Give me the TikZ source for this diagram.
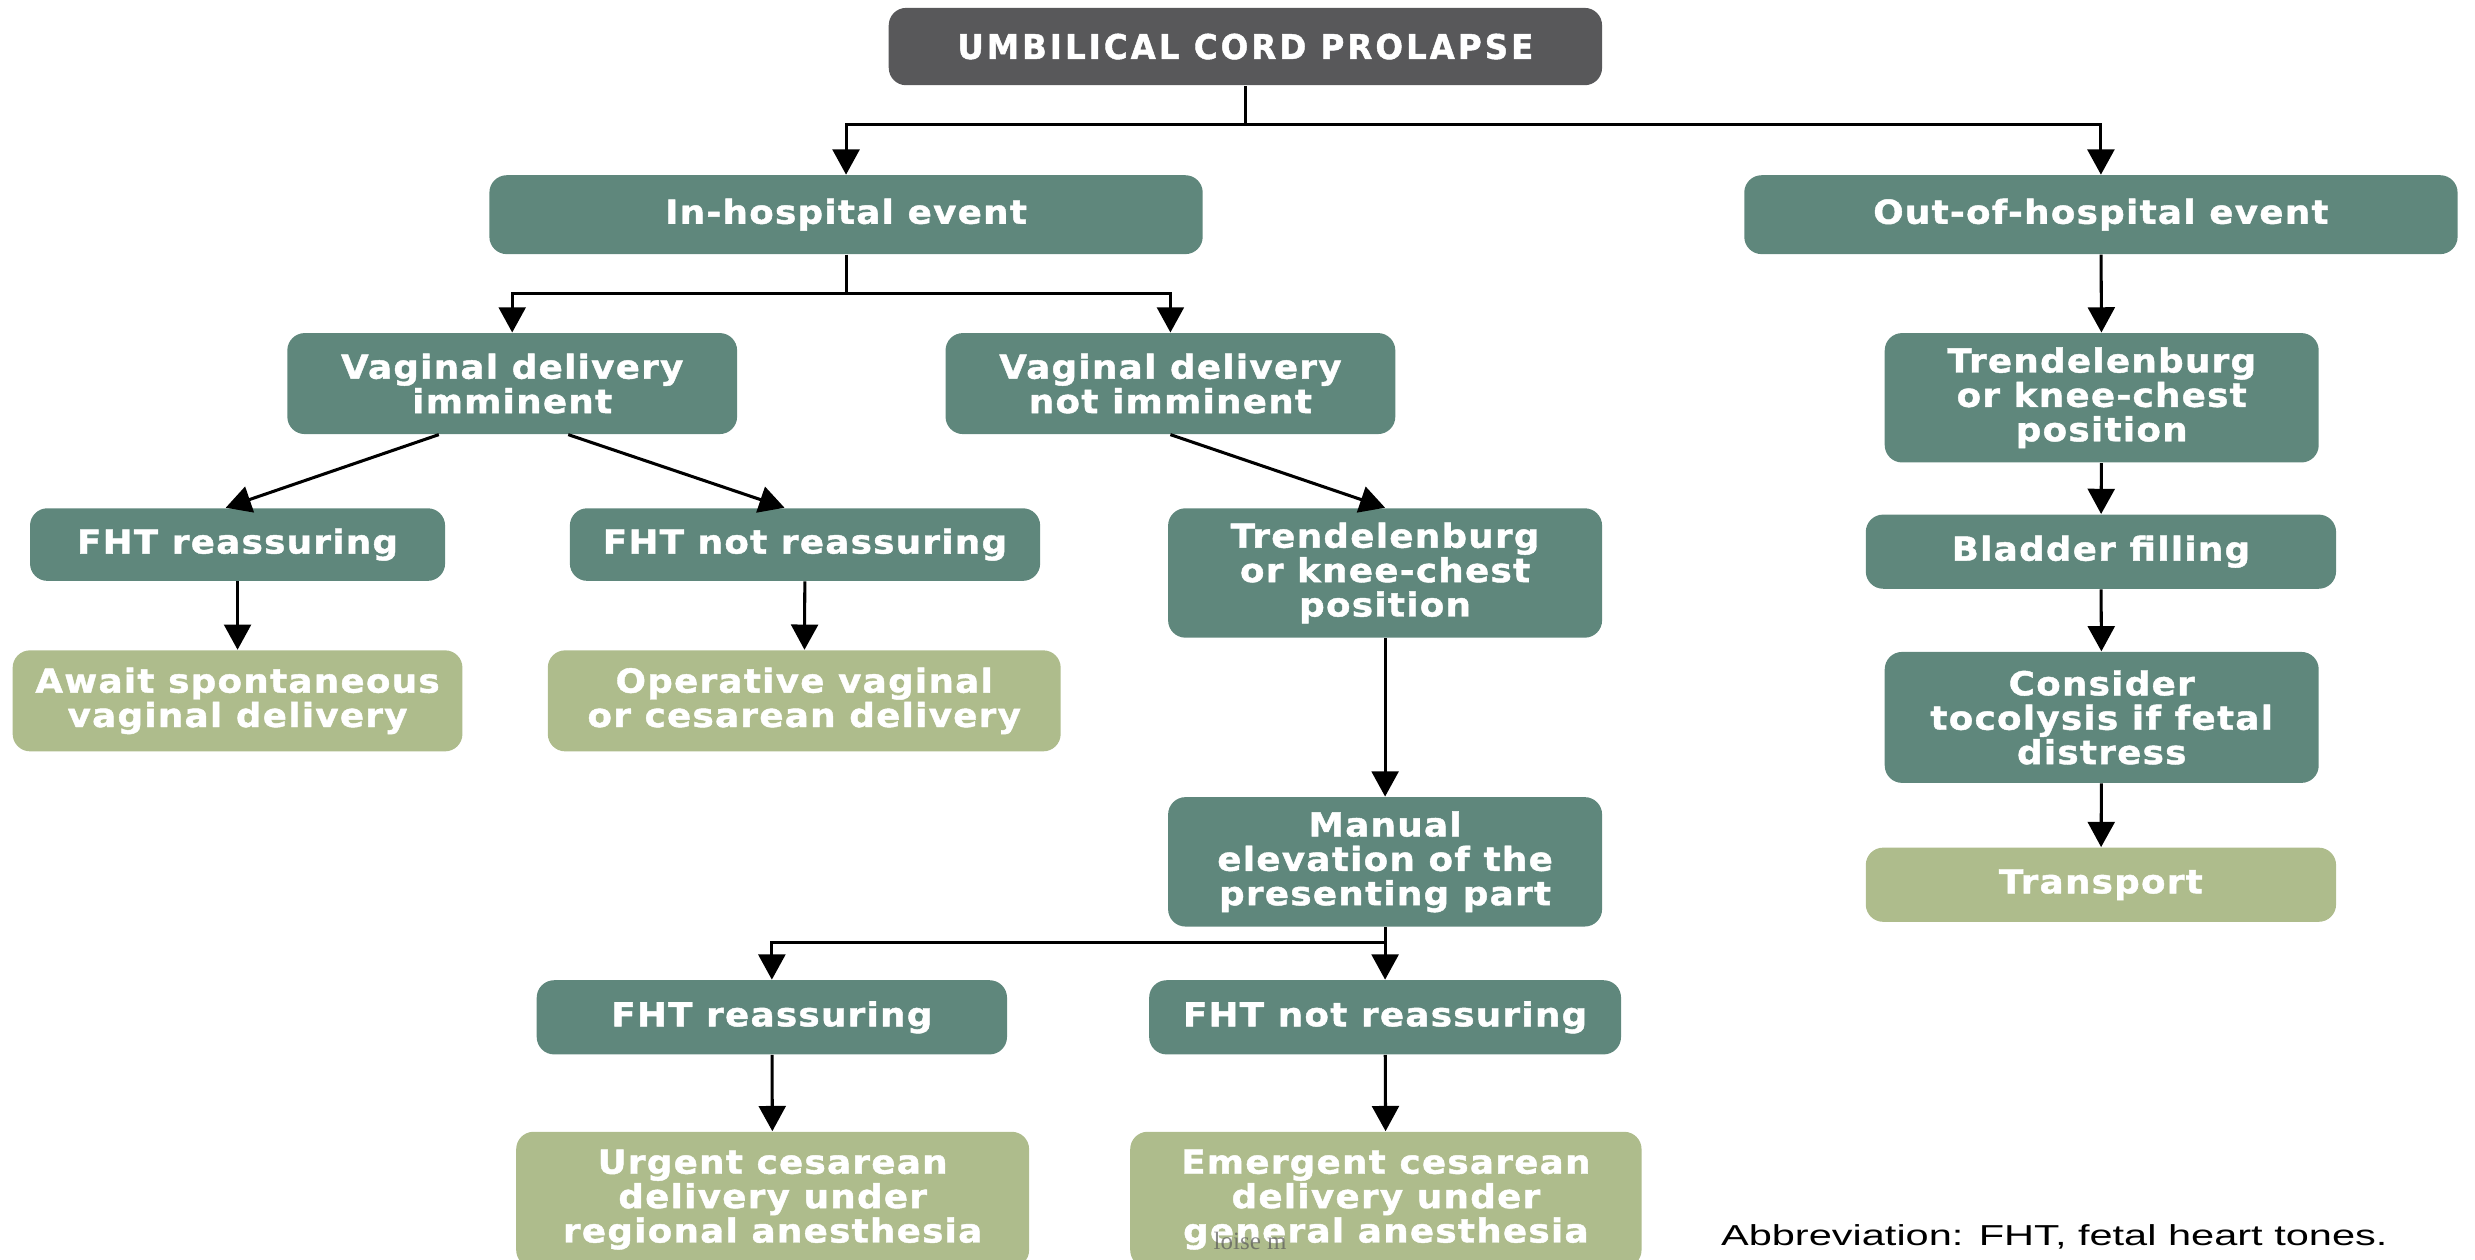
\documentclass[tikz,border=0pt]{standalone}
\usepackage{fontspec}
\usepackage{xcolor}
\usetikzlibrary{arrows.meta,calc,positioning}
\newfontfamily\boxfont[FakeStretch=1.08,LetterSpace=4,FakeBold=1.3]{DejaVu Sans}
\newfontfamily\headfont[FakeStretch=0.95,LetterSpace=9,FakeBold=1.3]{DejaVu Sans}
\newfontfamily\notefont[FakeStretch=1.44]{Liberation Sans}
\newfontfamily\markfont{Liberation Serif}
\definecolor{headgray}{HTML}{58585A}
\definecolor{stepteal}{HTML}{5F877C}
\definecolor{endgreen}{HTML}{AEBC8C}
\tikzset{
  box/.style={rounded corners=0.22cm, text=white, align=center, inner sep=0pt,
    font=\boxfont\bfseries\fontsize{11.9}{12.4}\selectfont},
  actbox/.style={box, fill=stepteal},
  endbox/.style={box, fill=endgreen},
  arr/.style={-{Triangle[length=0.32cm,width=0.34cm]}, line width=1.1pt},
  link/.style={line width=1.1pt},
}
\begin{document}
\begin{tikzpicture}[x=0.02cm, y=-0.02cm]
            \useasboundingbox (0,0) rectangle (1568,798);
            % Top of the chart
            \node[box, fill=headgray, minimum width=9.04cm, minimum height=0.98cm,
              font=\headfont\bfseries\fontsize{12.3}{12.4}\selectfont]
              (top) at (789,29.5) {UMBILICAL CORD PROLAPSE};
            \node[actbox, minimum width=9.04cm, minimum height=1cm] (inh) at (536,136) {In-hospital event};
            \node[actbox, minimum width=9.04cm, minimum height=1cm] (outh) at (1331,136) {Out-of-hospital event};
            % In-hospital branch
            \node[actbox, minimum width=5.7cm, minimum height=1.28cm] (vdi) at (324.5,243) {Vaginal delivery\\imminent};
            \node[actbox, minimum width=5.7cm, minimum height=1.28cm] (vdni) at (741.5,243) {Vaginal delivery\\not imminent};
            \node[actbox, minimum width=5.26cm, minimum height=0.92cm] (fhtr1) at (150.5,345) {FHT reassuring};
            \node[actbox, minimum width=5.96cm, minimum height=0.92cm] (fhtn1) at (510,345) {FHT not reassuring};
            \node[endbox, minimum width=5.7cm, minimum height=1.28cm] (await) at (150.5,444) {Await spontaneous\\vaginal delivery};
            \node[endbox, minimum width=6.5cm, minimum height=1.28cm] (oper) at (509.5,444) {Operative vaginal\\or cesarean delivery};
            \node[actbox, minimum width=5.5cm, minimum height=1.64cm] (trend1) at (877.5,363) {Trendelenburg\\or knee-chest\\position};
            \node[actbox, minimum width=5.5cm, minimum height=1.64cm] (manual) at (877.5,546) {Manual\\elevation of the\\presenting part};
            \node[actbox, minimum width=5.96cm, minimum height=0.94cm] (fhtr2) at (489,644.5) {FHT reassuring};
            \node[actbox, minimum width=5.98cm, minimum height=0.94cm] (fhtn2) at (877.5,644.5) {FHT not reassuring};
            \node[endbox, minimum width=6.5cm, minimum height=1.72cm] (urgent) at (489.5,760) {Urgent cesarean\\delivery under\\regional anesthesia};
            \node[endbox, minimum width=6.48cm, minimum height=1.72cm] (emergent) at (878,760) {Emergent cesarean\\delivery under\\general anesthesia};
            % Out-of-hospital branch
            \node[actbox, minimum width=5.5cm, minimum height=1.64cm] (trend2) at (1331.5,252) {Trendelenburg\\or knee-chest\\position};
            \node[actbox, minimum width=5.96cm, minimum height=0.94cm] (bladder) at (1331,349.5) {Bladder filling};
            \node[actbox, minimum width=5.5cm, minimum height=1.66cm] (tocol) at (1331.5,454.5) {Consider\\tocolysis if fetal\\distress};
            \node[endbox, minimum width=5.96cm, minimum height=0.94cm] (transport) at (1331,560.5) {Transport};
            % Notes
            \node[anchor=base west, inner sep=0pt, font=\notefont\fontsize{10.4}{12}\selectfont]
              (abbr) at (1090,789) {Abbreviation: FHT, fetal heart tones.};
            \node[inner sep=0pt, text=black!65, opacity=0.7, font=\markfont\fontsize{9}{9}\selectfont]
              (wmark) at (792,786) {loise m};
            % Split points
            \coordinate (split1) at (789,79);
            \coordinate (split2) at (536,186);
            \coordinate (split3) at (877.5,597);
            % Connectors
            \draw[link] (top.south) -- (split1);
            \draw[arr] (split1) -| (inh.north);
            \draw[arr] (split1) -| (outh.north);
            \draw[link] (inh.south) -- (split2);
            \draw[arr] (split2) -| (vdi.north);
            \draw[arr] (split2) -| (vdni.north);
            \draw[arr] ([xshift=-0.93cm]vdi.south) -- ([xshift=-0.15cm]fhtr1.north);
            \draw[arr] ([xshift=0.71cm]vdi.south) -- ([xshift=-0.26cm]fhtn1.north);
            \draw[arr] (vdni.south) -- (trend1.north);
            \draw[arr] (fhtr1) -- (await);
            \draw[arr] (fhtn1) -- (oper);
            \draw[arr] (trend1) -- (manual);
            \draw[arr] (manual.south) -- (fhtn2.north);
            \draw[arr] (split3) -| (fhtr2.north);
            \draw[arr] (fhtr2) -- (urgent);
            \draw[arr] (fhtn2) -- (emergent);
            \draw[arr] (outh) -- (trend2);
            \draw[arr] (trend2) -- (bladder);
            \draw[arr] (bladder) -- (tocol);
            \draw[arr] (tocol) -- (transport);
          \end{tikzpicture}
\end{document}
